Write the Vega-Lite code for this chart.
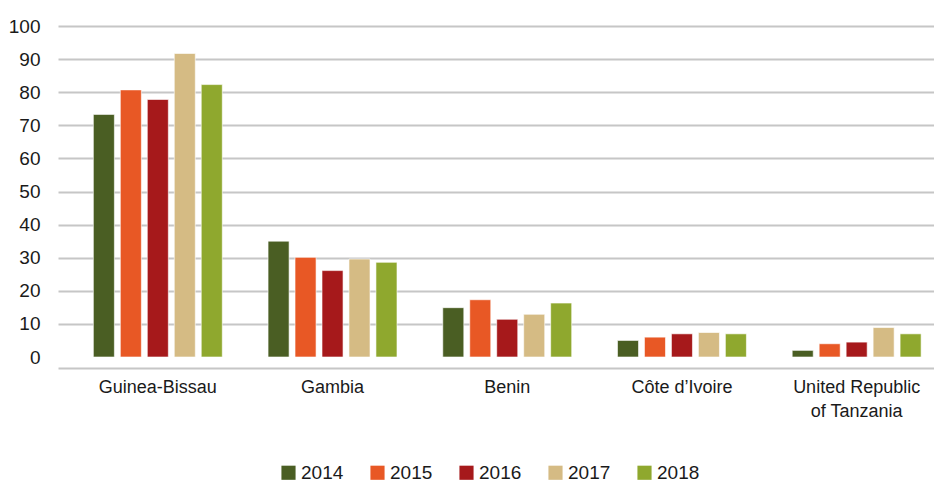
{
  "$schema": "https://vega.github.io/schema/vega-lite/v6.json",
  "width": 876,
  "height": 331,
  "autosize": {"type": "none"},
  "padding": {"left": 58, "top": 26, "right": 0, "bottom": 125},
  "background": "white",
  "config": {
    "font": "Liberation Sans, Arial",
    "view": {"stroke": null}
  },
  "data": {
    "values": [
      {"country": "Guinea-Bissau", "year": "2014", "value": 73.3},
      {"country": "Guinea-Bissau", "year": "2015", "value": 80.7},
      {"country": "Guinea-Bissau", "year": "2016", "value": 77.8},
      {"country": "Guinea-Bissau", "year": "2017", "value": 91.7},
      {"country": "Guinea-Bissau", "year": "2018", "value": 82.3},
      {"country": "Gambia", "year": "2014", "value": 35.0},
      {"country": "Gambia", "year": "2015", "value": 30.1},
      {"country": "Gambia", "year": "2016", "value": 26.1},
      {"country": "Gambia", "year": "2017", "value": 29.6},
      {"country": "Gambia", "year": "2018", "value": 28.6},
      {"country": "Benin", "year": "2014", "value": 14.9},
      {"country": "Benin", "year": "2015", "value": 17.3},
      {"country": "Benin", "year": "2016", "value": 11.4},
      {"country": "Benin", "year": "2017", "value": 12.9},
      {"country": "Benin", "year": "2018", "value": 16.3},
      {"country": "Côte d’Ivoire", "year": "2014", "value": 5.0},
      {"country": "Côte d’Ivoire", "year": "2015", "value": 6.0},
      {"country": "Côte d’Ivoire", "year": "2016", "value": 7.0},
      {"country": "Côte d’Ivoire", "year": "2017", "value": 7.4},
      {"country": "Côte d’Ivoire", "year": "2018", "value": 7.0},
      {"country": "United Republic of Tanzania", "year": "2014", "value": 2.0},
      {"country": "United Republic of Tanzania", "year": "2015", "value": 4.0},
      {"country": "United Republic of Tanzania", "year": "2016", "value": 4.5},
      {"country": "United Republic of Tanzania", "year": "2017", "value": 8.9},
      {"country": "United Republic of Tanzania", "year": "2018", "value": 7.0}
    ]
  },
  "mark": {"type": "bar", "stroke": "white", "strokeWidth": 1, "strokeOpacity": 0.6},
  "encoding": {
    "x": {
      "field": "country",
      "type": "nominal",
      "sort": ["Guinea-Bissau", "Gambia", "Benin", "Côte d’Ivoire", "United Republic of Tanzania"],
      "scale": {"paddingInner": 0.262, "paddingOuter": 0.138, "align": 0.733},
      "axis": {
        "title": null,
        "labelAngle": 0,
        "offset": 11,
        "domain": true,
        "domainColor": "#c6c6c6",
        "domainWidth": 2,
        "ticks": false,
        "labelPadding": 10,
        "labelFontSize": 18,
        "labelColor": "#1a1a1a",
        "labelLineHeight": 24,
        "labelExpr": "datum.value == 'United Republic of Tanzania' ? ['United Republic', 'of Tanzania'] : datum.value"
      }
    },
    "xOffset": {
      "field": "year",
      "type": "nominal",
      "scale": {"paddingInner": 0.22, "paddingOuter": 0}
    },
    "y": {
      "field": "value",
      "type": "quantitative",
      "scale": {"domain": [0, 100], "nice": false},
      "axis": {
        "title": null,
        "values": [0, 10, 20, 30, 40, 50, 60, 70, 80, 90, 100],
        "domain": false,
        "ticks": false,
        "grid": true,
        "gridColor": "#c6c6c6",
        "gridWidth": 2,
        "gridOpacity": {"condition": {"test": "datum.value === 0", "value": 0}, "value": 1},
        "labelPadding": 18,
        "labelFontSize": 19,
        "labelColor": "#1a1a1a"
      }
    },
    "color": {
      "field": "year",
      "type": "nominal",
      "scale": {
        "domain": ["2014", "2015", "2016", "2017", "2018"],
        "range": ["#4a5e23", "#e85825", "#a6191b", "#d5bb84", "#8fa82e"]
      },
      "legend": {
        "title": null,
        "orient": "none",
        "direction": "horizontal",
        "legendX": 221,
        "legendY": 437,
        "symbolType": "square",
        "symbolSize": 200,
        "symbolStrokeWidth": 0,
        "labelFontSize": 19,
        "labelColor": "#1a1a1a",
        "labelOffset": 3,
        "columnPadding": 24
      }
    }
  }
}
